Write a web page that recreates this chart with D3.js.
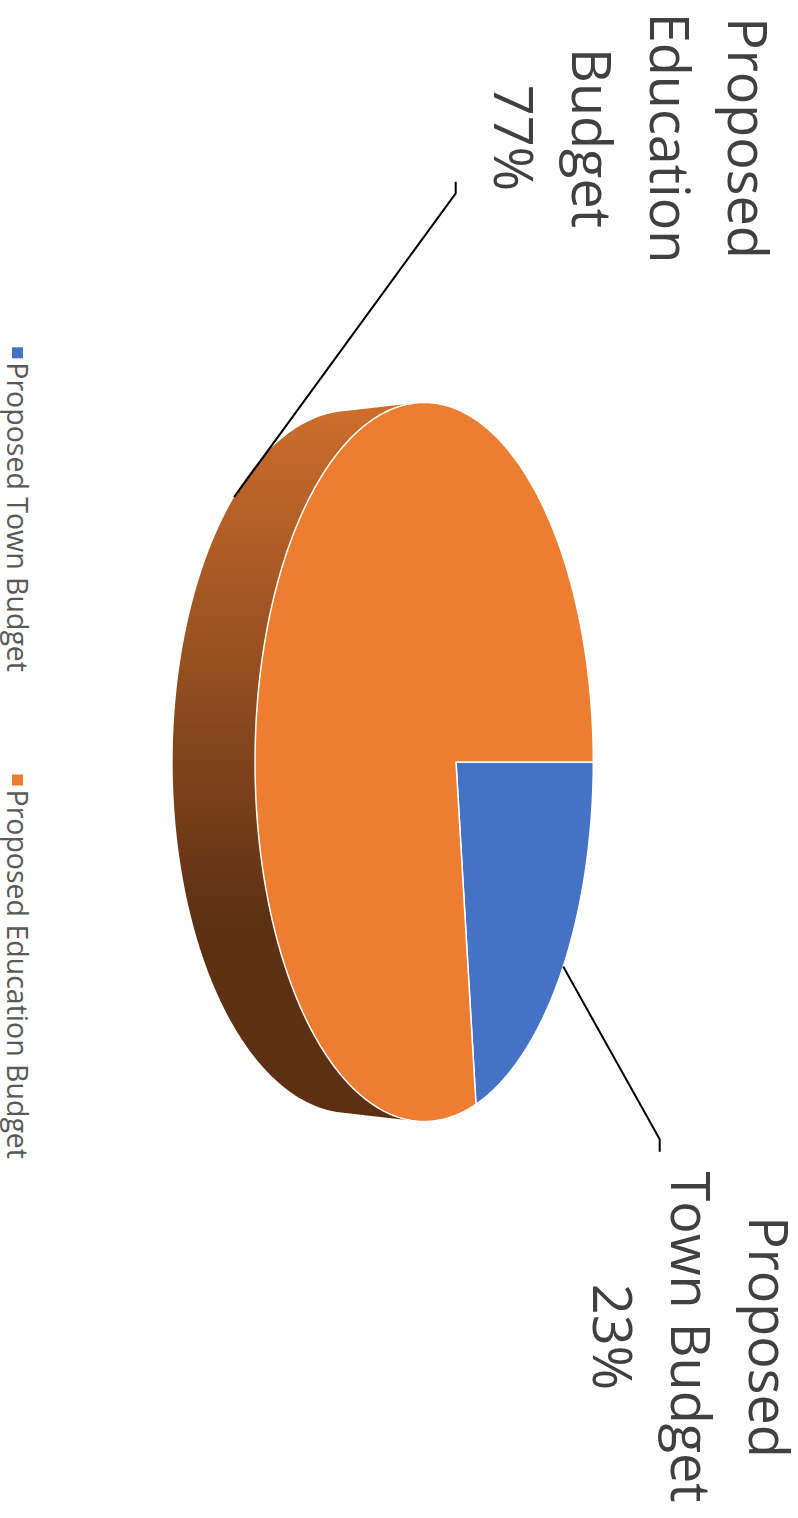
<!DOCTYPE html>
<html>
<head>
<meta charset="utf-8">
<script src="https://cdn.jsdelivr.net/npm/d3@7"></script>
<style>
  html, body { margin: 0; padding: 0; background: #fff; }
  svg { display: block; }
  text { font-family: "Open Sans", "Noto Sans", sans-serif; }
</style>
</head>
<body>
<svg id="chart" width="798" height="1518"></svg>
<script>
// Budget split: town vs. education
const categories = ["Proposed Town Budget", "Proposed Education Budget"];
const values = [23, 77];
const colors = ["#4472C4", "#ED7D31"];

// Chart is laid out landscape (1518 x 798) and turned a quarter clockwise onto the page.
const PAGE_W = 798, PAGE_H = 1518;
const svg = d3.select("#chart");
const root = svg.append("g").attr("transform", `translate(${PAGE_W},0) rotate(90)`);

// Perspective camera for the 3D disc (unit radius, top face at z = 0)
const cx = 762, cy = 342;
const FOC = 1663;          // focal length in px
const CAM = 4.71;          // camera distance in disc radii
const TILT = Math.asin(0.462);
const THICK = 0.2343;      // disc thickness in radii
const sinT = Math.sin(TILT), cosT = Math.cos(TILT);

// angle t: clockwise from the far point (12 o'clock), z: height
function project(t, z) {
  const X = Math.sin(t), Y = -Math.cos(t);
  const depth = CAM - Y * cosT - z * sinT;
  return [cx + FOC * X / depth, cy + FOC * (Y * sinT - z * cosT) / depth];
}

function rim(a, b, z, n) {
  const pts = [];
  const steps = Math.max(2, Math.ceil(Math.abs(b - a) / (Math.PI * 2) * n));
  for (let i = 0; i <= steps; i++) pts.push(project(a + (b - a) * i / steps, z));
  return pts;
}
const line = d3.line();

const pie = d3.pie().sort(null).startAngle(0).endAngle(2 * Math.PI);
const arcs = pie(values);
const total = d3.sum(values);

// Side wall gradient
const defs = svg.append("defs");
const grad = defs.append("linearGradient")
  .attr("id", "wall").attr("gradientUnits", "userSpaceOnUse")
  .attr("x1", 410).attr("y1", 0).attr("x2", 925).attr("y2", 0);
grad.append("stop").attr("offset", 0).attr("stop-color", "#cc6d2c");
grad.append("stop").attr("offset", 1).attr("stop-color", "#5d3014");

// Visible wall range (faces pointing to the camera)
const t0 = Math.acos(-1 / (CAM * cosT));
const t1 = 2 * Math.PI - t0;

const wallG = root.append("g");
arcs.forEach((d, i) => {
  const a = Math.max(d.startAngle, t0), b = Math.min(d.endAngle, t1);
  if (b <= a) return;
  const pts = rim(a, b, 0, 720).concat(rim(b, a, -THICK, 720));
  wallG.append("path")
    .attr("d", line(pts) + "Z")
    .attr("fill", i === 1 ? "url(#wall)" : d3.color(colors[i]).darker(1.2));
});

// Top faces
const topG = root.append("g");
arcs.forEach((d, i) => {
  const pts = [[cx, cy]].concat(rim(d.startAngle, d.endAngle, 0, 720));
  topG.append("path")
    .attr("d", line(pts) + "Z")
    .attr("fill", colors[i])
    .attr("stroke", "#fff")
    .attr("stroke-width", 1.5)
    .attr("stroke-linejoin", "round");
});

// Data labels with leader lines
const labelLayout = [
  { x: 1337, y: 49, tick: [[1151.7, 138.3], [1139.3, 138.3]] },
  { x: 138, y: 70, tick: [[181.7, 342.3], [193.3, 342.3]] }
];
const LABEL_SIZE = 54, LINE_H = 78, WRAP = 360;
const pct = d3.format(".0%");
const labelG = root.append("g");

arcs.forEach((d, i) => {
  const L = labelLayout[i];
  const mid = (d.startAngle + d.endAngle) / 2;
  const z = Math.cos(mid) < 0 ? -THICK : 0;
  const target = project(mid, z);
  labelG.append("path")
    .attr("d", line([L.tick[0], L.tick[1], target]))
    .attr("fill", "none").attr("stroke", "#000").attr("stroke-width", 2);

  // wrap category name
  const probe = labelG.append("text").attr("font-size", LABEL_SIZE);
  const words = categories[i].split(" ");
  const lines = [];
  let cur = "";
  words.forEach(w => {
    const trial = cur ? cur + " " + w : w;
    probe.text(trial);
    if (cur && probe.node().getComputedTextLength() > WRAP) { lines.push(cur); cur = w; }
    else cur = trial;
  });
  lines.push(cur);
  probe.remove();
  lines.push(pct(d.data / total));

  const t = labelG.append("text")
    .attr("font-size", LABEL_SIZE)
    .attr("fill", "#404040")
    .attr("text-anchor", "middle");
  lines.forEach((s, k) => {
    t.append("tspan").attr("x", L.x).attr("y", L.y + k * LINE_H).text(s);
  });
});

// Legend
const legendLayout = [{ x: 347.3 }, { x: 774.5 }];
const LEG_Y = 791, LEG_SIZE = 28.5;
const legG = root.append("g");
categories.forEach((c, i) => {
  const x = legendLayout[i].x;
  legG.append("rect")
    .attr("x", x).attr("y", LEG_Y - 16).attr("width", 11).attr("height", 11)
    .attr("fill", colors[i]);
  legG.append("text")
    .attr("x", x + 15).attr("y", LEG_Y)
    .attr("font-size", LEG_SIZE)
    .attr("fill", "#595959")
    .text(c);
});
</script>
</body>
</html>
